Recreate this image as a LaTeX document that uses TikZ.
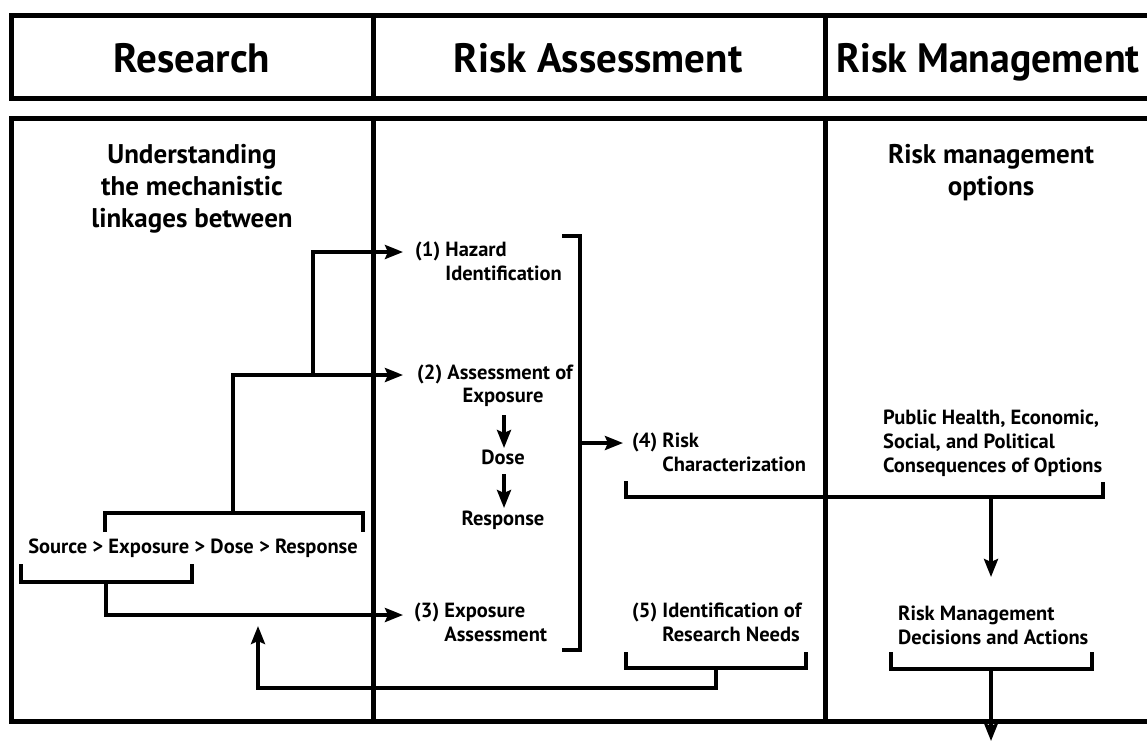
\documentclass[tikz,border=0pt]{standalone}
\usepackage{fontspec}
\setmainfont{PT Sans}
\usetikzlibrary{arrows.meta}
\begin{document}
\begin{tikzpicture}[x=1pt,y=-1pt,
  frame/.style={line width=5pt},
  conn/.style={line width=3.6pt},
  arr/.style={conn,-{Stealth[length=18pt,width=14pt,inset=3pt]}},
  head/.style={font=\fontsize{41}{44}\selectfont\bfseries, inner sep=0pt, anchor=base},
  title/.style={font=\fontsize{27}{32}\selectfont\bfseries, align=center, inner sep=0pt},
  lbl/.style={font=\fontsize{20.5}{24}\selectfont\bfseries, inner sep=0pt},
]
\useasboundingbox (0,0) rectangle (1147,742);

% header frame
\draw[frame] (1147,15) -- (11,15) -- (11,98) -- (1147,98);
\draw[frame] (373,15) -- (373,98);
\draw[frame] (825,15) -- (825,98);
\node[head] (hres) at (192,72) {Research};
\node[head] (hra) at (598,72) {Risk Assessment};
\node[head] (hrm) at (988,72) {\scalebox{0.97}[1]{Risk Management}};

% body frame
\draw[frame] (1147,118) -- (11,118) -- (11,721) -- (1147,721);
\draw[frame] (373,118) -- (373,721);
\draw[frame] (825,118) -- (825,721);

% titles
\node[title] (under) at (192,189) {Understanding\\the mechanistic\\linkages between};
\node[title] (rmo) at (991,173) {Risk management\\options};

% labels
\node[lbl, anchor=west] (n1) at (415,264) {\begin{tabular}{@{}l@{ }l@{}}(1)&Hazard\\&Identification\end{tabular}};
\node[lbl, anchor=west] (n2) at (417,374) {(2) Assessment of};
\node[lbl] (exp) at (503,397) {Exposure};
\node[lbl] (dose) at (503,457) {Dose};
\node[lbl] (resp) at (503,520) {Response};
\node[lbl, anchor=west] (n3) at (414,625) {\begin{tabular}{@{}l@{ }l@{}}(3)&Exposure\\&Assessment\end{tabular}};
\node[lbl, anchor=west] (n4) at (632,455) {\begin{tabular}{@{}l@{ }l@{}}(4)&Risk\\&Characterization\end{tabular}};
\node[lbl, anchor=west] (n5) at (632,625) {\begin{tabular}{@{}l@{ }l@{}}(5)&Identification of\\&Research Needs\end{tabular}};
\node[lbl, anchor=west, align=left] (pub) at (883,443) {Public Health, Economic,\\Social, and Political\\Consequences of Options};
\node[lbl, anchor=west, align=left] (rmd) at (898,625) {Risk Management\\Decisions and Actions};
\node[lbl] (src) at (193,548) {Source > Exposure > Dose > Response};

% coordinates
\coordinate (t1) at (403,252);
\coordinate (t2) at (403,375);
\coordinate (t3) at (403,615);
\coordinate (t4) at (623,443);
\coordinate (bTop) at (233,513);
\coordinate (j1) at (313,375);
\coordinate (bBot) at (106,582);
\coordinate (bigR) at (580,443);
\coordinate (c4) at (991,497);
\coordinate (t6) at (991,577);
\coordinate (c5) at (716,668);
\coordinate (c5b) at (716,688);
\coordinate (t5) at (258,626);
\coordinate (c7) at (991,669);
\coordinate (t7) at (991,741);
\coordinate (e1) at (504,415);
\coordinate (e2) at (504,448);
\coordinate (d1) at (504,474);
\coordinate (d2) at (504,508);

% brackets
\draw[conn] (105,532) -- (105,513) -- (363,513) -- (363,532);
\draw[conn] (21,564) -- (21,582) -- (192,582) -- (192,564);
\draw[conn] (562,236) -- (580,236) -- (580,650) -- (562,650);
\draw[conn] (626,481) -- (626,497) -- (1103,497) -- (1103,482);
\draw[conn] (626,652) -- (626,668) -- (806,668) -- (806,652);
\draw[conn] (891,652) -- (891,669) -- (1092,669) -- (1092,652);

% connectors
\draw[arr] (bTop) |- (t2);
\draw[arr] (j1) |- (t1);
\draw[arr] (bBot) |- (t3);
\draw[arr] (bigR) -- (t4);
\draw[arr] (c4) -- (t6);
\draw[arr] (c5) -- (c5b) -| (t5);
\draw[arr] (c7) -- (t7);
\draw[arr] (e1) -- (e2);
\draw[arr] (d1) -- (d2);
\end{tikzpicture}
\end{document}
